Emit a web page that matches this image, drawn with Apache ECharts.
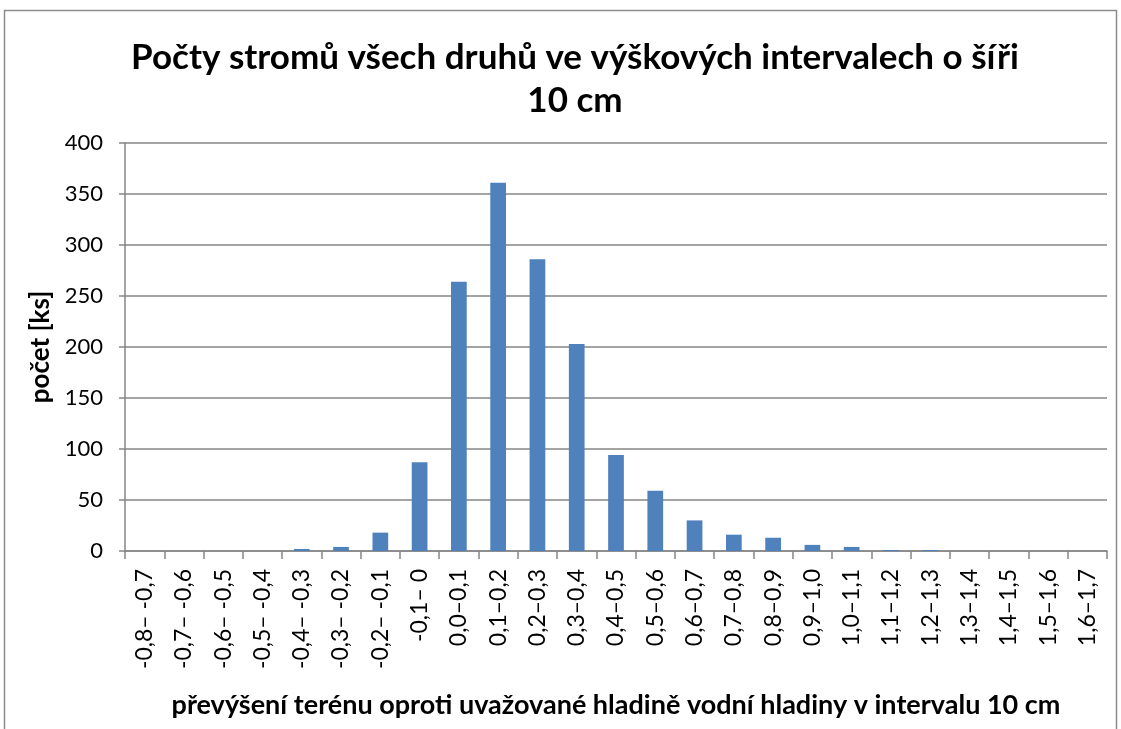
<!DOCTYPE html>
<html>
<head>
<meta charset="utf-8">
<script src="https://cdn.jsdelivr.net/npm/echarts@6/dist/echarts.min.js"></script>
<style>
  html, body { margin: 0; padding: 0; background: #fff; }
  #chart { width: 1121px; height: 729px; }
</style>
</head>
<body>
<div id="chart"></div>
<script>
// intervals of terrain height above water level (10 cm steps)
const categories = [
  "-0,8– -0,7", "-0,7– -0,6", "-0,6– -0,5", "-0,5– -0,4", "-0,4– -0,3",
  "-0,3– -0,2", "-0,2– -0,1", "-0,1– 0", "0,0–0,1", "0,1–0,2",
  "0,2–0,3", "0,3–0,4", "0,4–0,5", "0,5–0,6", "0,6–0,7",
  "0,7–0,8", "0,8–0,9", "0,9–1,0", "1,0–1,1", "1,1–1,2",
  "1,2–1,3", "1,3–1,4", "1,4–1,5", "1,5–1,6", "1,6–1,7"
];
// tree counts
const counts = [
  0, 0, 0, 0, 2,
  4, 18, 87, 264, 361,
  286, 203, 94, 59, 30,
  16, 13, 6, 4, 1,
  1, 0, 0, 0, 0
];
const yMin = 0, yMax = 400, yStep = 50;

const font = "Lato, 'Open Sans', 'DejaVu Sans', sans-serif";
const chart = echarts.init(document.getElementById("chart"));

const titleStyle = (text, y) => ({
  type: "text",
  x: 575,
  y: y,
  silent: true,
  style: {
    text: text,
    fill: "#000",
    font: "bold 35px " + font,
    textAlign: "center",
    textVerticalAlign: "middle"
  }
});

chart.setOption({
  animation: false,
  backgroundColor: "#fff",
  textStyle: { fontFamily: font },
  graphic: [
    {
      type: "rect",
      shape: { x: 4.5, y: 10.5, width: 1112, height: 740 },
      style: { fill: "none", stroke: "#8c8c8c", lineWidth: 1.5 },
      silent: true
    },
    titleStyle("Počty stromů všech druhů ve výškových intervalech o šíři", 58),
    titleStyle("10 cm", 101)
  ],
  grid: { left: 125, right: 14, top: 143, bottom: 178 },
  xAxis: {
    type: "category",
    data: categories,
    name: "převýšení terénu oproti uvažované hladině vodní hladiny v intervalu 10 cm",
    nameLocation: "middle",
    nameGap: 141,
    nameTextStyle: { fontFamily: font, fontSize: 27, fontWeight: "bold", color: "#000" },
    axisLine: { lineStyle: { color: "#868686", width: 1.5 } },
    axisTick: { show: true, alignWithLabel: false, length: 8, lineStyle: { color: "#868686", width: 1.5 } },
    axisLabel: { rotate: 90, fontSize: 23, color: "#000", margin: 18, interval: 0, fontFamily: font }
  },
  yAxis: {
    type: "value",
    min: yMin,
    max: yMax,
    interval: yStep,
    name: "počet [ks]",
    nameLocation: "middle",
    nameRotate: 90,
    nameGap: 65,
    nameTextStyle: { fontFamily: font, fontSize: 26, fontWeight: "bold", color: "#000" },
    axisLine: { show: true, lineStyle: { color: "#868686", width: 1.5 } },
    axisTick: { show: true, length: 6, lineStyle: { color: "#868686", width: 1.5 } },
    axisLabel: { fontSize: 22, color: "#000", margin: 22, fontFamily: font },
    splitLine: { lineStyle: { color: "#868686", width: 1.5 } }
  },
  series: [{
    type: "bar",
    data: counts,
    barWidth: "40%",
    itemStyle: { color: "#4f81bd" }
  }]
});
</script>
</body>
</html>
